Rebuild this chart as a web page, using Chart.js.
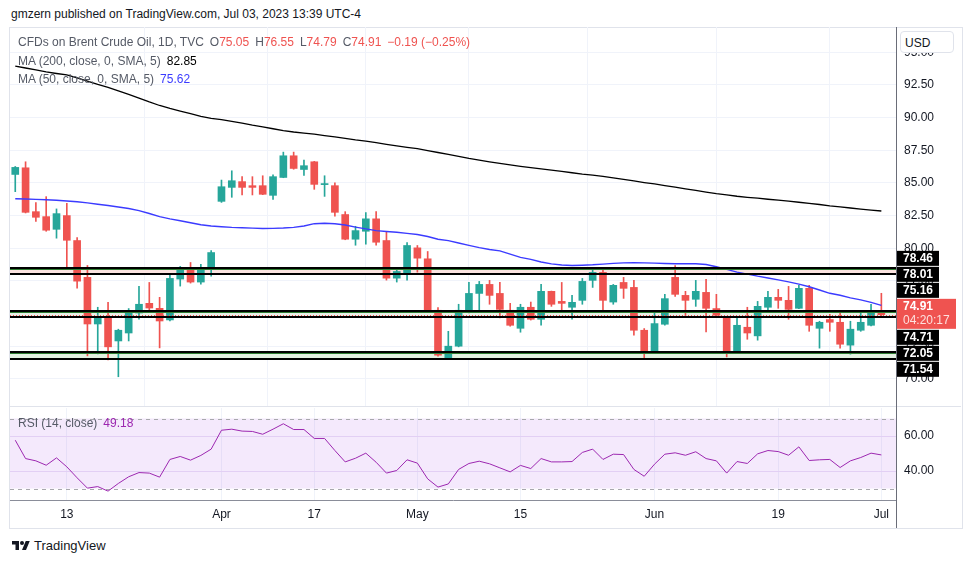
<!DOCTYPE html>
<html>
<head>
<meta charset="utf-8">
<script src="https://cdn.jsdelivr.net/npm/chart.js@4.4.0/dist/chart.umd.min.js"></script>
<style>
  body { margin: 0; background: #fff; font-family: "Liberation Sans", Arial, sans-serif; color: #131722; }
  #wrap { position: relative; width: 970px; height: 563px; overflow: hidden; }
  .abs { position: absolute; white-space: nowrap; }
  #hdr { left: 11px; top: 7px; font-size: 12px; color: #131722; }
  #frame { left: 9px; top: 27px; width: 952px; height: 500px; border: 1px solid #e0e3eb; }
  #sep { left: 10px; top: 406px; width: 951px; height: 1px; background: #e0e3eb; }
  #vaxis { left: 896px; top: 27px; width: 1px; height: 501px; background: #6a6d78; }
  canvas { position: absolute; left: 0; }
  .lg { left: 18px; font-size: 12px; color: #555a66; }
  .lg span { margin-left: 6px; }
  .lg span.first { margin-left: 0; }
  .red { color: #ef5350; }
  #usd { left: 900px; top: 31px; width: 54px; height: 22px; border: 1px solid #e0e3eb; border-radius: 4px;
         background: #fff; font-size: 12px; line-height: 22px; padding-left: 4px; box-sizing: border-box; }
  #logo { left: 12px; top: 538px; font-size: 13px; color: #131722; display: flex; align-items: center; }
  #logo svg { margin-right: 4px; }
</style>
</head>
<body>
<div id="wrap">
  <div id="hdr" class="abs">gmzern published on TradingView.com, Jul 03, 2023 13:39 UTC-4</div>
  <div id="frame" class="abs"></div>
  <canvas id="price" width="970" height="379" style="top:27px"></canvas>
  <canvas id="rsi" width="970" height="122" style="top:406px"></canvas>
  <div id="sep" class="abs"></div>
  <div id="vaxis" class="abs"></div>
  <div id="lg1" class="abs lg" style="top:35px"></div>
  <div id="lg2" class="abs lg" style="top:54px"></div>
  <div id="lg3" class="abs lg" style="top:72px"></div>
  <div id="lg4" class="abs lg" style="top:416px"></div>
  <div id="usd" class="abs">USD</div>
  <div id="logo" class="abs">
    <svg width="18" height="14" viewBox="0 0 36 28"><path d="M14 22H7V11H0V4h14v18zM28 22h-8l7.5-18h8L28 22z" fill="#131722"/><circle cx="20" cy="8" r="4" fill="#131722"/></svg>
    TradingView
  </div>
</div>
<script>
// trading days shown on the chart
const dates = [
  '2023-03-06','2023-03-07','2023-03-08','2023-03-09','2023-03-10',
  '2023-03-13','2023-03-14','2023-03-15','2023-03-16','2023-03-17',
  '2023-03-20','2023-03-21','2023-03-22','2023-03-23','2023-03-24',
  '2023-03-27','2023-03-28','2023-03-29','2023-03-30','2023-03-31',
  '2023-04-03','2023-04-04','2023-04-05','2023-04-06',
  '2023-04-10','2023-04-11','2023-04-12','2023-04-13','2023-04-14',
  '2023-04-17','2023-04-18','2023-04-19','2023-04-20','2023-04-21',
  '2023-04-24','2023-04-25','2023-04-26','2023-04-27','2023-04-28',
  '2023-05-01','2023-05-02','2023-05-03','2023-05-04','2023-05-05',
  '2023-05-08','2023-05-09','2023-05-10','2023-05-11','2023-05-12',
  '2023-05-15','2023-05-16','2023-05-17','2023-05-18','2023-05-19',
  '2023-05-22','2023-05-23','2023-05-24','2023-05-25','2023-05-26',
  '2023-05-29','2023-05-30','2023-05-31',
  '2023-06-01','2023-06-02',
  '2023-06-05','2023-06-06','2023-06-07','2023-06-08','2023-06-09',
  '2023-06-12','2023-06-13','2023-06-14','2023-06-15','2023-06-16',
  '2023-06-19','2023-06-20','2023-06-21','2023-06-22','2023-06-23',
  '2023-06-26','2023-06-27','2023-06-28','2023-06-29','2023-06-30',
  '2023-07-03'
];

const open = [
  85.65, 86.16, 82.80, 82.42, 81.45, 82.50, 80.59, 77.77, 74.20, 74.66,
  72.90, 73.51, 75.04, 75.78, 75.40, 74.51, 77.64, 78.38, 77.41, 78.40,
  83.59, 84.66, 85.10, 84.79, 84.79, 84.05, 85.42, 87.08, 86.03, 86.62,
  84.87, 84.79, 82.58, 80.69, 81.30, 82.25, 80.59, 77.71, 78.05, 80.03,
  79.19, 75.25, 71.61, 72.50, 75.12, 76.54, 77.23, 76.54, 75.25, 73.87,
  75.48, 74.56, 76.70, 75.93, 75.48, 76.01, 77.54, 78.15, 75.88, 77.38,
  77.00, 73.72, 72.04, 74.18, 77.77, 76.39, 76.09, 76.62, 75.38, 74.71,
  71.99, 73.95, 73.29, 75.48, 76.24, 76.01, 75.40, 76.93, 73.87, 74.54,
  74.33, 72.58, 73.72, 74.10, 75.05
];
const high = [
  86.26, 86.62, 83.49, 83.95, 83.01, 83.44, 80.82, 78.68, 75.48, 75.86,
  73.80, 75.38, 77.08, 77.38, 76.24, 77.92, 78.61, 78.91, 78.76, 79.83,
  85.22, 85.93, 85.48, 85.48, 85.55, 85.63, 87.36, 87.36, 86.75, 86.65,
  85.55, 85.00, 82.80, 81.68, 82.73, 82.80, 81.28, 78.46, 80.44, 80.21,
  79.75, 75.45, 73.64, 75.71, 77.38, 77.46, 77.54, 77.38, 75.78, 75.71,
  75.88, 77.23, 76.72, 77.38, 76.39, 77.69, 78.45, 78.30, 77.23, 77.77,
  77.54, 73.85, 75.17, 76.47, 78.68, 76.70, 77.54, 77.61, 76.47, 74.79,
  74.64, 75.48, 75.93, 76.70, 76.85, 77.08, 77.16, 77.16, 74.41, 74.94,
  75.02, 74.41, 75.09, 75.71, 76.55
];
const low = [
  84.33, 82.70, 82.06, 81.30, 80.77, 78.43, 76.95, 71.76, 71.91, 71.45,
  70.16, 72.90, 74.56, 75.25, 72.37, 74.43, 77.10, 77.33, 77.25, 77.87,
  83.51, 83.90, 84.08, 84.08, 84.10, 83.74, 85.40, 86.05, 85.58, 84.51,
  83.97, 82.45, 80.65, 80.23, 80.31, 80.23, 77.56, 77.41, 77.56, 78.17,
  75.10, 71.74, 71.48, 72.45, 75.05, 75.12, 75.71, 74.66, 74.03, 73.57,
  74.50, 74.10, 75.55, 75.17, 74.56, 75.71, 77.00, 75.09, 75.71, 76.16,
  73.34, 71.51, 72.00, 74.10, 76.32, 74.74, 75.55, 73.59, 74.71, 71.68,
  71.95, 73.03, 72.96, 75.09, 75.40, 74.56, 75.38, 73.64, 72.35, 73.64,
  72.35, 71.89, 73.64, 74.05, 74.79
];
const close = [
  86.19, 82.75, 82.37, 81.38, 82.65, 80.61, 77.48, 74.20, 74.66, 72.45,
  73.72, 75.02, 75.71, 75.42, 74.43, 77.69, 78.35, 77.41, 78.43, 79.67,
  84.71, 85.17, 84.66, 84.66, 84.13, 85.48, 87.08, 86.11, 86.32, 84.89,
  84.95, 82.75, 80.69, 81.35, 82.25, 80.46, 77.71, 78.22, 80.21, 79.24,
  75.12, 71.81, 72.50, 75.25, 76.54, 77.23, 76.39, 75.32, 74.10, 75.48,
  74.56, 76.70, 75.71, 75.78, 75.86, 77.46, 78.15, 76.01, 77.16, 76.93,
  73.72, 72.04, 74.23, 76.14, 76.47, 76.01, 76.70, 75.40, 74.87, 71.99,
  74.10, 73.51, 75.55, 76.24, 76.01, 75.32, 76.93, 74.10, 74.33, 74.33,
  72.65, 73.80, 74.33, 75.10, 74.91
];

const ma200 = [
  93.95, 93.80, 93.65, 93.50, 93.38, 93.27, 93.05, 92.80, 92.55, 92.32,
  92.05, 91.78, 91.50, 91.20, 90.93, 90.70, 90.50, 90.30, 90.10, 89.95,
  89.85, 89.72, 89.58, 89.43, 89.30, 89.15, 89.00, 88.90, 88.82, 88.73,
  88.63, 88.53, 88.42, 88.30, 88.20, 88.08, 87.95, 87.83, 87.72, 87.62,
  87.48, 87.33, 87.18, 87.03, 86.88, 86.75, 86.62, 86.50, 86.38, 86.27,
  86.17, 86.08, 85.98, 85.88, 85.78, 85.68, 85.60, 85.50, 85.38, 85.27,
  85.15, 85.03, 84.92, 84.80, 84.68, 84.55, 84.43, 84.30, 84.18, 84.08,
  83.98, 83.90, 83.83, 83.75, 83.68, 83.60, 83.52, 83.43, 83.35, 83.25,
  83.17, 83.08, 83.00, 82.92, 82.85
];
const ma50 = [
  83.79, 83.77, 83.74, 83.71, 83.67, 83.62, 83.56, 83.47, 83.37, 83.27,
  83.16, 83.04, 82.88, 82.66, 82.42, 82.25, 82.10, 81.95, 81.80, 81.70,
  81.65, 81.60, 81.57, 81.54, 81.51, 81.52, 81.55, 81.60, 81.70, 81.88,
  81.91, 81.87, 81.78, 81.62, 81.48, 81.35, 81.28, 81.22, 81.14, 81.05,
  80.90, 80.69, 80.58, 80.40, 80.22, 80.05, 79.90, 79.80, 79.55, 79.30,
  79.15, 78.95, 78.80, 78.72, 78.68, 78.70, 78.73, 78.78, 78.84, 78.88,
  78.89, 78.88, 78.86, 78.83, 78.81, 78.81, 78.81, 78.75, 78.58, 78.38,
  78.17, 78.02, 77.86, 77.72, 77.58, 77.42, 77.25, 77.05, 76.80, 76.55,
  76.40, 76.20, 76.05, 75.85, 75.62
];
const rsi = [
  57.6, 47.1, 45.8, 43.3, 47.5, 42.4, 36.1, 30.2, 31.1, 28.5,
  32.9, 36.7, 39.1, 38.8, 36.5, 46.6, 48.3, 46.2, 48.9, 52.5,
  63.3, 63.9, 62.8, 62.6, 61.0, 63.9, 67.0, 63.7, 63.7, 58.6,
  58.6, 51.7, 45.2, 47.3, 50.2, 45.0, 38.8, 40.3, 46.4, 44.5,
  35.5, 30.8, 32.6, 40.9, 44.3, 45.6, 44.1, 41.8, 39.5, 43.2,
  41.4, 47.1, 45.2, 45.2, 45.4, 50.6, 52.5, 46.6, 49.6, 49.4,
  40.9, 37.0, 43.9, 49.6, 50.4, 49.0, 51.0, 47.1, 45.8, 38.8,
  45.4, 44.3, 49.8, 51.7, 51.1, 49.0, 53.8, 46.0, 46.4, 46.6,
  42.0, 45.8, 47.7, 50.2, 49.18
];

// drawn levels: zone tops / bottoms and their fills
const zoneTop = [78.46, 75.16, 72.05];
const zoneBottom = [78.01, 74.71, 71.54];
const zoneFill = ['#fbe3e0', '#ebf1e9', '#e3f1e1'];

const priceTicks = [70, 72.5, 75, 77.5, 80, 82.5, 85, 87.5, 90, 92.5, 95];
const rsiTicks = [40, 60];
const tickDates = ['2023-03-13','2023-04-03','2023-04-17','2023-05-01','2023-05-15','2023-06-01','2023-06-19','2023-07-03'];
const tickLabels = ['13', 'Apr', '17', 'May', '15', 'Jun', '19', 'Jul'];
const countdown = '04:20:17';

const UP = '#26a69a', DOWN = '#ef5350';
const FONT = "'Liberation Sans', Arial, sans-serif";
Chart.defaults.font.family = FONT;

const n = dates.length;
const last = n - 1;
const tickIdx = tickDates.map(d => dates.indexOf(d));
const candleColors = close.map((c, i) => c >= open[i] ? UP : DOWN);
const xMin = -0.51, xMax = 85.42;

// legends
const chg = close[last] - close[last - 1];
const pct = chg / close[last - 1] * 100;
const sgn = v => (v < 0 ? '\u2212' : '+') + Math.abs(v).toFixed(2);
document.getElementById('lg1').innerHTML =
  '<span class="first">CFDs on Brent Crude Oil, 1D, TVC</span>' +
  '<span>O<b class="red" style="font-weight:normal">' + open[last].toFixed(2) + '</b></span>' +
  '<span>H<b class="red" style="font-weight:normal">' + high[last].toFixed(2) + '</b></span>' +
  '<span>L<b class="red" style="font-weight:normal">' + low[last].toFixed(2) + '</b></span>' +
  '<span>C<b class="red" style="font-weight:normal">' + close[last].toFixed(2) + '</b></span>' +
  '<span class="red">' + sgn(chg) + ' (' + sgn(pct) + '%)</span>';
document.getElementById('lg2').innerHTML =
  '<span class="first">MA (200, close, 0, SMA, 5)</span><span style="color:#000">' + ma200[last].toFixed(2) + '</span>';
document.getElementById('lg3').innerHTML =
  '<span class="first">MA (50, close, 0, SMA, 5)</span><span style="color:#3b3bff">' + ma50[last].toFixed(2) + '</span>';
document.getElementById('lg4').innerHTML =
  '<span class="first">RSI (14, close)</span><span style="color:#9c27b0">' + rsi[last].toFixed(2) + '</span>';

function hline(ctx, area, y, color, width, dash) {
  ctx.save();
  ctx.beginPath();
  ctx.strokeStyle = color;
  ctx.lineWidth = width;
  ctx.setLineDash(dash || []);
  ctx.moveTo(area.left, y);
  ctx.lineTo(area.right, y);
  ctx.stroke();
  ctx.restore();
}

// spread the axis labels so they don't overlap
function spreadLabels(items) {
  items.sort((a, b) => a.y - b.y);
  for (let it = 0; it < 200; it++) {
    let moved = false;
    for (let k = 0; k < items.length - 1; k++) {
      const a = items[k], b = items[k + 1];
      const need = (a.h + b.h) / 2 + 1;
      if (b.y - a.y < need - 0.01) {
        const s = (need - (b.y - a.y)) / 2;
        a.y -= s; b.y += s; moved = true;
      }
    }
    if (!moved) break;
  }
  return items;
}

const levelsPlugin = {
  id: 'levels',
  beforeDatasetsDraw(chart) {
    const ctx = chart.ctx, a = chart.chartArea, y = chart.scales.y;
    ctx.save();
    zoneTop.forEach((t, k) => {
      const y1 = y.getPixelForValue(t), y2 = y.getPixelForValue(zoneBottom[k]);
      ctx.fillStyle = zoneFill[k];
      ctx.fillRect(a.left, y1, a.right - a.left, y2 - y1);
    });
    ctx.restore();
  },
  afterDatasetsDraw(chart) {
    const ctx = chart.ctx, a = chart.chartArea, y = chart.scales.y;
    zoneTop.forEach((t, k) => {
      const y1 = Math.round(y.getPixelForValue(t)), y2 = Math.round(y.getPixelForValue(zoneBottom[k]));
      hline(ctx, a, y1 + 1.5, '#2e7d32', 1);
      hline(ctx, a, y1, '#000', 2);
      hline(ctx, a, y2, '#000', 2);
    });
    hline(ctx, a, Math.round(y.getPixelForValue(close[last])) + 0.5, DOWN, 1, [1, 2]);
  },
  afterDraw(chart) {
    const ctx = chart.ctx, a = chart.chartArea, y = chart.scales.y;
    const items = [];
    zoneTop.concat(zoneBottom).forEach(p => items.push({ p: p, y: y.getPixelForValue(p), h: 15, red: false }));
    items.push({ p: close[last], y: y.getPixelForValue(close[last]), h: 30, red: true });
    spreadLabels(items);
    ctx.save();
    ctx.textBaseline = 'middle';
    ctx.textAlign = 'left';
    ctx.font = 'bold 12px ' + FONT;
    items.forEach(it => {
      const top = it.y - it.h / 2;
      ctx.fillStyle = it.red ? DOWN : '#000';
      ctx.fillRect(a.right + 1, top, it.red ? 59 : 42, it.h);
      ctx.fillStyle = '#fff';
      if (it.red) {
        ctx.fillText(it.p.toFixed(2), a.right + 7, top + 8);
        ctx.font = '12px ' + FONT;
        ctx.fillStyle = '#fde0de';
        ctx.fillText(countdown, a.right + 7, top + 22);
        ctx.font = 'bold 12px ' + FONT;
      } else {
        ctx.fillText(it.p.toFixed(2), a.right + 7, it.y);
      }
    });
    ctx.restore();
  }
};

const xAxisTicks = s => { s.ticks = tickIdx.map(v => ({ value: v })); };
// keep the plot area exactly the canvas height: no label overhang padding
const noPad = s => { s.paddingTop = 0; s.paddingBottom = 0; s.paddingLeft = 0; s.paddingRight = 0; };

new Chart(document.getElementById('price'), {
  type: 'bar',
  data: {
    datasets: [
      {
        type: 'line', label: 'MA 200', order: 0,
        data: ma200.map((v, i) => ({ x: i, y: v })),
        borderColor: '#000', borderWidth: 1.3, pointRadius: 0, tension: 0
      },
      {
        type: 'line', label: 'MA 50', order: 1,
        data: ma50.map((v, i) => ({ x: i, y: v })),
        borderColor: '#3b3bff', borderWidth: 1.4, pointRadius: 0, tension: 0
      },
      {
        label: 'body', order: 2, grouped: false,
        data: open.map((o, i) => ({ x: i, y: [Math.min(o, close[i]), Math.max(o, close[i])] })),
        backgroundColor: candleColors, barThickness: 7, minBarLength: 1, borderWidth: 0
      },
      {
        label: 'wick', order: 3, grouped: false,
        data: low.map((l, i) => ({ x: i, y: [l, high[i]] })),
        backgroundColor: candleColors, barThickness: 1, borderWidth: 0
      }
    ]
  },
  options: {
    responsive: false,
    animation: false,
    layout: { autoPadding: false, padding: { left: 10, top: 0, right: 0, bottom: 0 } },
    plugins: { legend: { display: false }, tooltip: { enabled: false } },
    scales: {
      x: {
        type: 'linear', min: xMin, max: xMax, offset: false,
        grid: { color: '#f0f3fa', drawTicks: false },
        border: { display: false },
        ticks: { display: false },
        afterBuildTicks: xAxisTicks,
        afterFit: s => { s.height = 0; noPad(s); }
      },
      y: {
        position: 'right', min: 67.92, max: 96.94,
        grid: { color: '#f0f3fa', drawTicks: false },
        border: { display: false },
        ticks: { color: '#131722', font: { size: 12 }, padding: 8, callback: v => v.toFixed(2) },
        afterBuildTicks: s => { s.ticks = priceTicks.map(v => ({ value: v })); },
        afterFit: s => { s.width = 74; noPad(s); }
      }
    }
  },
  plugins: [levelsPlugin]
});

const rsiBandPlugin = {
  id: 'rsiBand',
  beforeDatasetsDraw(chart) {
    const ctx = chart.ctx, a = chart.chartArea, y = chart.scales.y;
    const y70 = y.getPixelForValue(70), y30 = y.getPixelForValue(30);
    ctx.save();
    ctx.fillStyle = 'rgba(150, 40, 230, 0.10)';
    ctx.fillRect(a.left, y70, a.right - a.left, y30 - y70);
    ctx.restore();
    hline(ctx, a, Math.round(y70) + 0.5, '#a8a8ad', 1, [4, 4]);
    hline(ctx, a, Math.round(y30) + 0.5, '#a8a8ad', 1, [4, 4]);
  }
};

new Chart(document.getElementById('rsi'), {
  type: 'line',
  data: {
    datasets: [{
      label: 'RSI',
      data: rsi.map((v, i) => ({ x: i, y: v })),
      borderColor: '#9c27b0', borderWidth: 1, pointRadius: 0, tension: 0
    }]
  },
  options: {
    responsive: false,
    animation: false,
    layout: { autoPadding: false, padding: { left: 10, top: 2, right: 0, bottom: 0 } },
    plugins: { legend: { display: false }, tooltip: { enabled: false } },
    scales: {
      x: {
        type: 'linear', min: xMin, max: xMax, offset: false,
        grid: { color: '#f0f3fa', drawTicks: false },
        border: { color: '#8a8d99', width: 1 },
        ticks: {
          color: '#131722', font: { size: 12 }, padding: 7, maxRotation: 0, autoSkip: false,
          callback: v => tickLabels[tickIdx.indexOf(v)]
        },
        afterBuildTicks: xAxisTicks,
        afterFit: s => { s.height = 28; noPad(s); }
      },
      y: {
        position: 'right', min: 23.43, max: 76,
        grid: { color: '#ebe3f6', drawTicks: false },
        border: { display: false },
        ticks: { color: '#131722', font: { size: 12 }, padding: 8, callback: v => v.toFixed(2) },
        afterBuildTicks: s => { s.ticks = rsiTicks.map(v => ({ value: v })); },
        afterFit: s => { s.width = 74; noPad(s); }
      }
    }
  },
  plugins: [rsiBandPlugin]
});
</script>
</body>
</html>
